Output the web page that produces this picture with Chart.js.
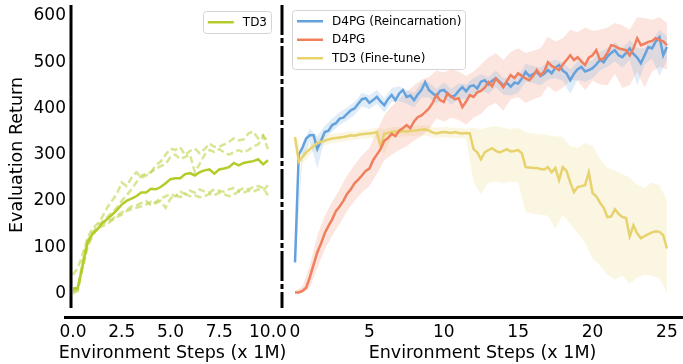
<!DOCTYPE html>
<html>
<head>
<meta charset="utf-8">
<script src="https://cdn.jsdelivr.net/npm/chart.js@4.4.0/dist/chart.umd.min.js"></script>
<style>
  html, body { margin: 0; padding: 0; background: #fff; }
  #wrap { position: relative; width: 683px; height: 364px; overflow: hidden; }
  canvas { position: absolute; top: 0; }
  #left { left: 0; }
  #right { left: 262px; }
</style>
</head>
<body>
<div id="wrap">
  <canvas id="left" width="320" height="364"></canvas>
  <canvas id="right" width="421" height="364"></canvas>
</div>
<script>
// tick labels
const yTicks = [0, 100, 200, 300, 400, 500, 600];
const xTicksLeft = [0, 2.5, 5, 7.5, 10];
const xTicksRight = [0, 5, 10, 15, 20, 25];

// left panel: TD3 from scratch (x 1M steps)
const leftSteps = [0,0.25,0.5,0.75,1,1.25,1.5,1.75,2,2.25,2.5,2.75,3,3.25,3.5,3.75,4,4.25,4.5,4.75,5,
  5.25,5.5,5.75,6,6.25,6.5,6.75,7,7.25,7.5,7.75,8,8.25,8.5,8.75,9,9.25,9.5,9.75,10];
const td3Mean = [10,12,60,110,128,138,152,160,170,180,192,200,205,210,218,218,226,225,230,238,247,
  249,249,258,260,255,262,266,268,259,268,270,273,282,277,282,284,286,290,279,288];
const td3SeedA = [40,55,85,120,140,150,165,185,200,215,240,232,250,262,250,255,262,277,285,300,313,
  310,316,299,308,313,303,312,324,317,317,322,328,335,331,333,346,350,335,342,328];
const td3SeedB = [5,10,70,115,130,145,155,165,175,185,200,212,225,240,255,258,262,270,275,280,295,
  300,290,295,300,262,280,300,310,306,312,305,300,305,310,305,310,318,322,340,312];
const td3SeedC = [0,5,65,105,130,140,145,150,158,165,170,178,182,185,188,192,198,195,200,185,205,
  212,208,215,210,212,208,210,215,212,218,215,210,214,220,218,222,220,225,222,234];
const td3SeedD = [5,8,55,100,125,140,150,155,160,168,175,180,188,190,195,200,190,198,205,210,215,
  210,220,215,222,218,225,220,218,225,222,220,225,228,222,228,225,230,232,228,212];

// right panel: mean curves
const rightSteps = [0,0.25,0.5,0.75,1,1.25,1.5,1.75,2,2.25,2.5,2.75,3,3.25,3.5,3.75,4,4.25,4.5,4.75,
  5,5.25,5.5,5.75,6,6.25,6.5,6.75,7,7.25,7.5,7.75,8,8.25,8.5,8.75,9,9.25,9.5,9.75,
  10,10.25,10.5,10.75,11,11.25,11.5,11.75,12,12.25,12.5,12.75,13,13.25,13.5,13.75,14,14.25,14.5,14.75,
  15,15.25,15.5,15.75,16,16.25,16.5,16.75,17,17.25,17.5,17.75,18,18.25,18.5,18.75,19,19.25,19.5,19.75,
  20,20.25,20.5,20.75,21,21.25,21.5,21.75,22,22.25,22.5,22.75,23,23.25,23.5,23.75,24,24.25,24.5,24.75,25];
const d4pgReinc = [67,300,315,335,342,342,312,330,349,352,364,368,378,380,388,396,400,410,420,422,
  412,418,425,415,407,420,429,418,432,440,425,428,418,430,440,457,440,433,426,438,
  440,432,425,428,438,446,437,448,450,443,458,461,452,460,465,458,450,455,447,456,
  454,465,479,470,474,479,470,475,483,476,488,494,482,476,461,475,485,490,480,483,
  487,495,505,500,512,520,526,515,511,520,530,518,510,498,515,533,530,545,554,515,533];
const d4pg = [2,2,5,12,35,62,89,108,130,146,160,178,188,200,215,225,238,246,255,265,
  270,288,300,312,330,336,345,340,352,357,364,357,372,381,385,392,400,412,429,418,
  414,433,426,420,422,403,415,429,425,435,438,445,457,448,465,456,446,460,472,466,
  476,470,465,461,470,483,472,480,500,492,488,483,495,505,515,505,511,502,494,510,
  515,526,505,508,520,537,535,530,528,526,515,530,552,537,540,544,546,552,548,545,537];
const td3Fine = [338,285,295,305,312,318,325,328,330,333,335,336,337,338,340,342,341,343,344,345,
  346,347,349,318,345,347,349,350,349,351,350,351,352,353,354,355,352,348,346,348,
  349,348,347,349,347,346,347,346,312,305,290,305,310,314,308,305,308,312,307,308,
  310,303,273,272,271,271,269,268,273,262,271,245,273,265,240,219,230,232,234,262,
  217,210,196,185,165,166,182,172,165,163,123,147,130,119,124,128,132,134,133,126,97];

// right panel: shaded bands
const bandSteps = [0,0.5,1,1.5,2,2.5,3,3.5,4,4.5,5,5.5,6,6.5,7,7.5,8,8.5,9,9.5,10,10.5,11,11.5,12,
  12.5,13,13.5,14,14.5,15,15.5,16,16.5,17,17.5,18,18.5,19,19.5,20,20.5,21,21.5,22,22.5,23,23.5,24,24.5,25];
const d4pgReincLo = [55,290,328,270,335,350,364,374,386,405,398,410,392,414,416,410,402,424,424,410,
  424,408,420,420,432,440,432,446,430,428,434,458,455,450,462,466,460,432,462,458,
  465,482,490,502,488,505,450,495,508,470,505];
const d4pgReincHi = [80,325,356,340,362,378,392,402,414,434,428,440,422,444,448,440,434,456,456,442,
  456,442,454,452,466,474,468,482,466,464,470,496,492,488,500,506,500,484,502,498,
  505,522,530,544,530,548,530,530,548,570,555];
const d4pgLo = [0,0,12,55,95,125,150,178,200,218,232,258,288,300,310,318,330,340,355,378,
  372,380,375,365,380,388,405,412,395,420,425,412,420,425,448,435,445,462,460,440,
  460,452,450,475,445,450,480,446,480,490,485];
const d4pgHi = [5,15,60,125,168,198,225,255,278,298,315,350,385,405,420,435,450,462,468,482,
  478,485,480,470,480,495,510,520,505,522,530,520,525,530,555,545,552,570,565,575,
  568,570,575,585,580,570,598,595,592,598,585];
const td3FineLo = [330,280,300,315,320,325,327,330,332,334,336,335,300,338,338,340,340,342,340,336,
  338,336,336,335,240,215,240,242,238,242,240,175,172,170,168,140,170,150,130,110,
  75,60,40,30,38,20,35,40,38,32,0];
const td3FineHi = [345,305,322,335,340,345,347,350,350,353,355,358,355,360,360,361,362,364,362,358,
  360,358,358,356,358,355,360,362,358,355,358,348,346,344,342,340,338,318,315,325,
  320,290,272,266,258,250,235,228,240,234,201];

const FONT = '"DejaVu Sans", sans-serif';
Chart.defaults.font.family = FONT;
Chart.defaults.color = '#000';

const GREEN = '#b5cb2a';
const BLUE = '#64a2de';
const ORANGE = '#f07f5d';
const YELLOW = '#e8d26e';

const pts = (xs, ys) => xs.map((x, i) => ({ x: x, y: ys[i] }));

// axis spines: solid or dashed left spine, bottom line offset below it
const spines = {
  id: 'spines',
  afterDraw(chart, args, opts) {
    const { ctx, chartArea: a, width } = chart;
    ctx.save();
    ctx.strokeStyle = '#000';
    ctx.lineWidth = 3;
    ctx.setLineDash(opts.dash || []);
    ctx.beginPath();
    ctx.moveTo(a.left, a.top);
    ctx.lineTo(a.left, a.bottom - 10);
    ctx.stroke();
    ctx.setLineDash([]);
    ctx.lineWidth = 3;
    ctx.beginPath();
    ctx.moveTo(a.left + opts.from, a.bottom - 0.5);
    ctx.lineTo(opts.toEdge ? width : a.right, a.bottom - 0.5);
    ctx.stroke();
    ctx.fillStyle = '#000';
    ctx.font = '17.5px ' + FONT;
    ctx.textAlign = 'center';
    ctx.textBaseline = 'middle';
    // titles drawn by hand (the x title is wider than the left axes)
    if (opts.xTitle) {
      ctx.fillText(opts.xTitle, (a.left + a.right) / 2 + opts.titleDx, chart.height - 11);
    }
    if (opts.yTitle) {
      ctx.translate(17, 155);
      ctx.rotate(-Math.PI / 2);
      ctx.fillText(opts.yTitle, 0, 0);
    }
    ctx.restore();
  }
};

// matplotlib-like legend inside the axes
const legendBox = {
  id: 'legendBox',
  afterDraw(chart, args, opts) {
    const items = chart.data.datasets.filter(d => d.inLegend);
    const ctx = chart.ctx;
    const a = chart.chartArea;
    ctx.save();
    ctx.font = '12px ' + FONT;
    const textW = Math.max(...items.map(d => ctx.measureText(d.label).width));
    const rowH = 18.5;
    const w = 4 + 26 + 9 + textW + 5;
    const h = items.length * rowH + 3;
    const x = opts.side === 'right' ? a.right - opts.dx - w : a.left + opts.dx;
    const y = a.top + opts.dy;
    ctx.fillStyle = 'rgba(255,255,255,0.8)';
    ctx.strokeStyle = '#d4d4d4';
    ctx.lineWidth = 1;
    ctx.beginPath();
    ctx.roundRect(Math.round(x) + 0.5, Math.round(y) + 0.5, Math.round(w), Math.round(h), 3);
    ctx.fill();
    ctx.stroke();
    items.forEach((d, i) => {
      const cy = y + 2 + rowH * (i + 0.5);
      ctx.strokeStyle = d.borderColor;
      ctx.lineWidth = 2.5;
      ctx.beginPath();
      ctx.moveTo(x + 5, cy);
      ctx.lineTo(x + 31, cy);
      ctx.stroke();
      ctx.fillStyle = '#000';
      ctx.textBaseline = 'middle';
      ctx.fillText(d.label, x + 40, cy + 0.5);
    });
    ctx.restore();
  }
};

function noPad(s) {
  s.paddingTop = 0; s.paddingBottom = 0; s.paddingLeft = 0; s.paddingRight = 0;
}

function xAxis(min, max, ticks, fmt, showTitle) {
  return {
    type: 'linear', min: min, max: max,
    grid: { display: false, drawTicks: false },
    border: { display: false },
    afterBuildTicks: s => { s.ticks = ticks.map(v => ({ value: v })); },
    afterFit: s => { s.height = 46; noPad(s); },
    ticks: { font: { size: 17 }, padding: 4, maxRotation: 0, autoSkip: false, callback: fmt },
    title: { display: showTitle, text: 'Environment Steps (x 1M)', font: { size: 17.5 }, padding: { top: 0, bottom: 0.5 } }
  };
}

function line(label, data, color, extra) {
  return Object.assign({
    label: label, data: data, borderColor: color, borderWidth: 2.5,
    pointRadius: 0, tension: 0, fill: false, order: 0
  }, extra || {});
}

function band(xs, ys, color, fill) {
  return {
    label: '', data: pts(xs, ys), borderWidth: 0, borderColor: 'rgba(0,0,0,0)',
    backgroundColor: color, pointRadius: 0, tension: 0, fill: fill, order: 1
  };
}

const seedStyle = { borderColor: 'rgba(181,203,42,0.5)', borderDash: [7, 3.5], order: 1 };

new Chart(document.getElementById('left'), {
  type: 'line',
  data: {
    datasets: [
      line('TD3', pts(leftSteps, td3Mean), GREEN, { inLegend: true }),
      line('', pts(leftSteps, td3SeedA), GREEN, seedStyle),
      line('', pts(leftSteps, td3SeedB), GREEN, seedStyle),
      line('', pts(leftSteps, td3SeedC), GREEN, seedStyle),
      line('', pts(leftSteps, td3SeedD), GREEN, seedStyle)
    ]
  },
  options: {
    responsive: false, animation: false, devicePixelRatio: 1,
    layout: { padding: { left: 0, right: 38, top: 5, bottom: 0 } },
    plugins: { legend: { display: false }, tooltip: { enabled: false },
      legendBox: { side: 'right', dx: 11, dy: 6 },
      spines: { from: -7, toEdge: false, xTitle: 'Environment Steps (x 1M)', titleDx: -4, yTitle: 'Evaluation Return' } },
    scales: {
      x: xAxis(-0.1, 10.72, xTicksLeft, v => v.toFixed(1), false),
      y: {
        type: 'linear', min: -53.4, max: 623.8,
        grid: { display: false, drawTicks: false },
        border: { display: false },
        afterBuildTicks: s => { s.ticks = yTicks.map(v => ({ value: v })); },
        afterFit: s => { s.width = 71; noPad(s); },
        ticks: { font: { size: 17 }, padding: 5 },
        title: { display: false }
      }
    }
  },
  plugins: [spines, legendBox]
});

new Chart(document.getElementById('right'), {
  type: 'line',
  data: {
    datasets: [
      line('D4PG (Reincarnation)', pts(rightSteps, d4pgReinc), BLUE, { inLegend: true, order: 0.3 }),
      line('D4PG', pts(rightSteps, d4pg), ORANGE, { inLegend: true, order: 0.1 }),
      line('TD3 (Fine-tune)', pts(rightSteps, td3Fine), YELLOW, { inLegend: true, order: 0.2 }),
      band(bandSteps, d4pgReincHi, 'rgba(100,162,222,0.2)', '+1'),
      band(bandSteps, d4pgReincLo, 'rgba(0,0,0,0)', false),
      band(bandSteps, d4pgHi, 'rgba(240,127,93,0.2)', '+1'),
      band(bandSteps, d4pgLo, 'rgba(0,0,0,0)', false),
      band(bandSteps, td3FineHi, 'rgba(232,210,110,0.2)', '+1'),
      band(bandSteps, td3FineLo, 'rgba(0,0,0,0)', false)
    ]
  },
  options: {
    responsive: false, animation: false, devicePixelRatio: 1,
    layout: { padding: { left: 20, right: 0, top: 5, bottom: 0 } },
    plugins: { legend: { display: false }, tooltip: { enabled: false },
      legendBox: { side: 'left', dx: 10, dy: 5 }, spines: { from: 0, toEdge: true, dash: [30, 3, 5, 3] } },
    scales: {
      x: xAxis(-0.874, 26.08, xTicksRight, v => String(v), true),
      y: { type: 'linear', min: -53.4, max: 623.8, display: false }
    }
  },
  plugins: [spines, legendBox]
});
</script>
</body>
</html>
